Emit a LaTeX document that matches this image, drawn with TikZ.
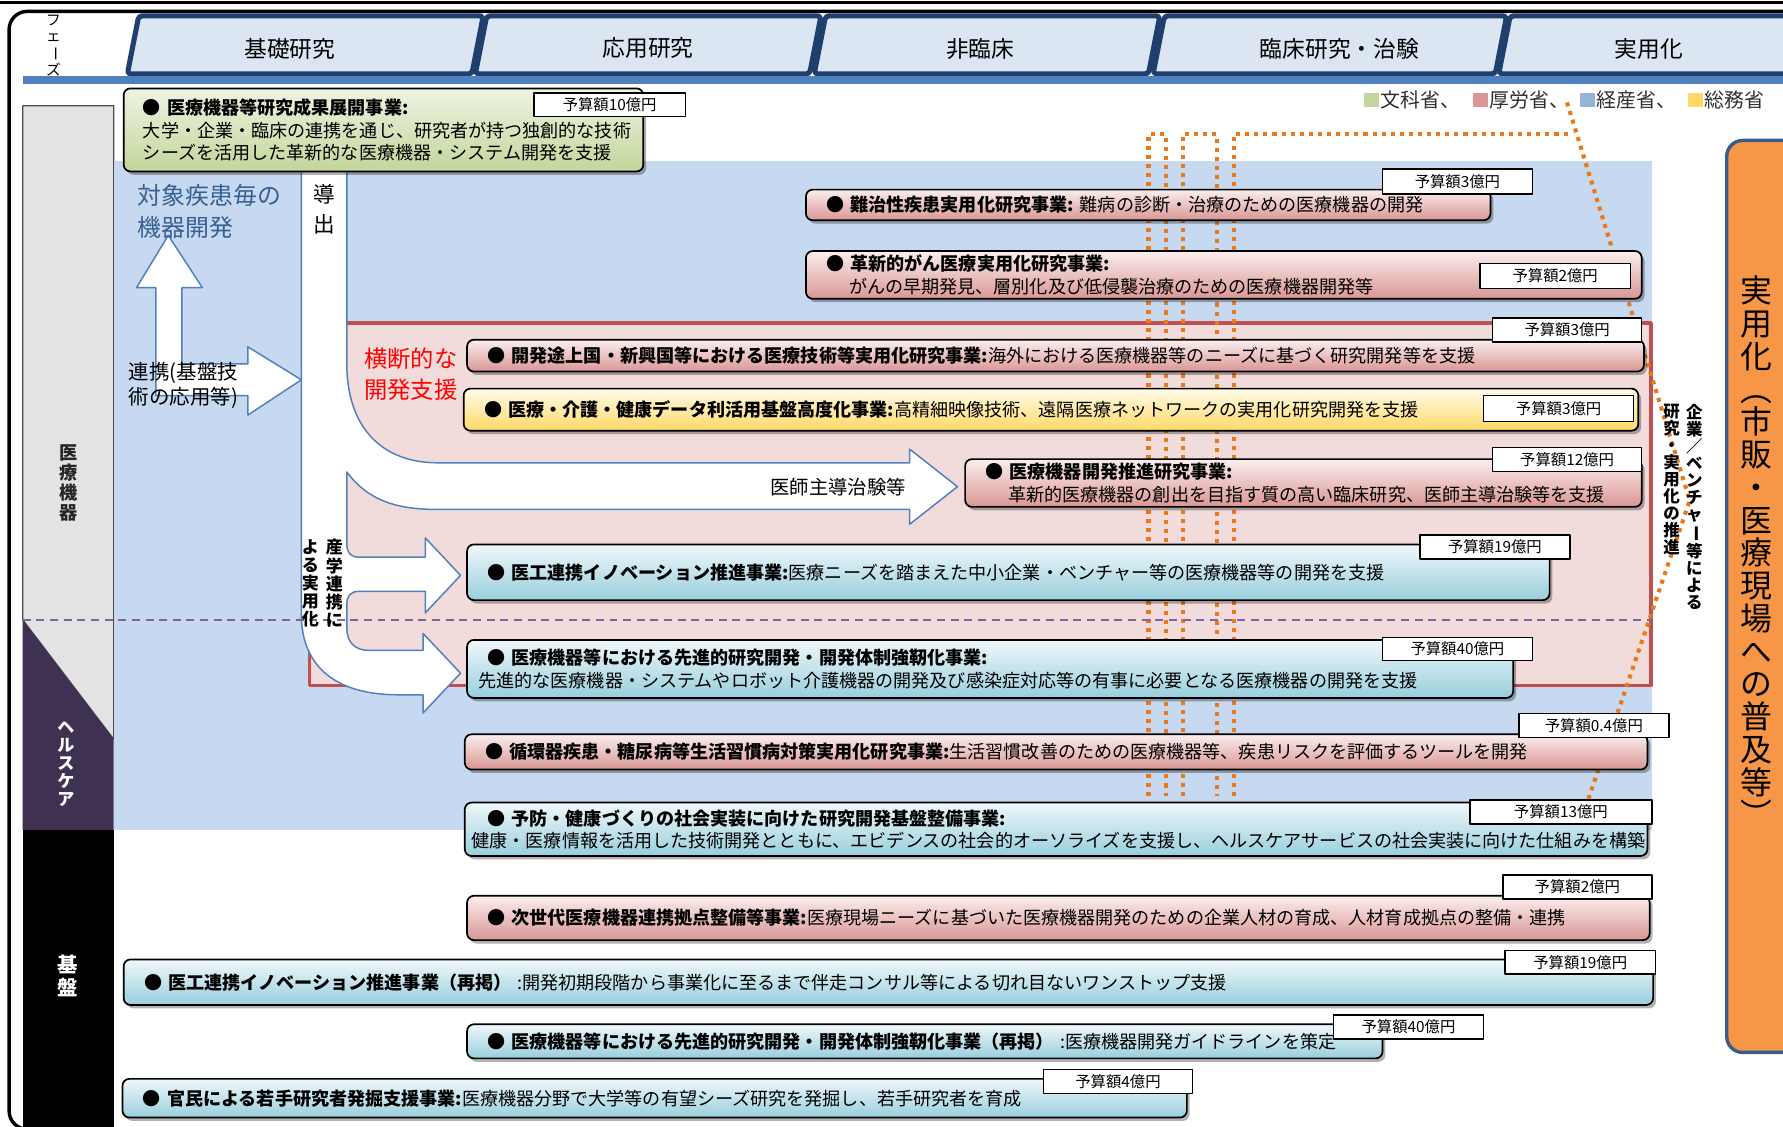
\documentclass[tikz,border=0pt]{standalone}
\usepackage{fontspec}
\setmainfont{Noto Sans CJK JP}
\usetikzlibrary{shadows}

\definecolor{tabfill}{HTML}{DCE6F2}
\definecolor{tabline}{HTML}{1F3F6E}
\definecolor{barblue}{HTML}{4F81BD}
\definecolor{zoneblue}{HTML}{C6D9F1}
\definecolor{zonepink}{HTML}{F2DCDB}
\definecolor{zonered}{HTML}{C0504D}
\definecolor{colgray}{HTML}{E3E3E3}
\definecolor{colpurple}{HTML}{3F3151}
\definecolor{arrowline}{HTML}{4F81BD}
\definecolor{dotorange}{HTML}{E97A1B}
\definecolor{dashpurple}{HTML}{8064A2}
\definecolor{pinkT}{HTML}{FBEEEE}
\definecolor{pinkB}{HTML}{D99694}
\definecolor{blueT}{HTML}{F0F8FB}
\definecolor{blueB}{HTML}{98CEDC}
\definecolor{yellowT}{HTML}{FFFBEA}
\definecolor{yellowB}{HTML}{FFD966}
\definecolor{greenT}{HTML}{EEF3E2}
\definecolor{greenB}{HTML}{C3D69B}
\definecolor{legGreen}{HTML}{C3D69B}
\definecolor{legPink}{HTML}{D99694}
\definecolor{legBlue}{HTML}{95B3D7}
\definecolor{legYellow}{HTML}{FFD966}
\definecolor{orangebox}{HTML}{F79646}
\definecolor{orangeline}{HTML}{385D8A}
\definecolor{titleblue}{HTML}{376092}
\definecolor{legtext}{HTML}{303030}

\newcommand\boxfont{\fontsize{15.9}{19.5}\selectfont}
\newcommand\budgetfont{\fontsize{13.5}{14.5}\selectfont}
\newcommand\vbar{\rotatebox[origin=c]{-90}{ー}}

\tikzset{
  cbox/.style={draw=black, line width=1.5pt, rounded corners=6pt, anchor=north west,
    inner ysep=0pt, align=left, font=\boxfont,
    drop shadow={shadow xshift=2.5pt, shadow yshift=-3pt, opacity=0.3, fill=black}},
  pinkbox/.style={cbox, top color=pinkT, bottom color=pinkB},
  bluebox/.style={cbox, top color=blueT, bottom color=blueB},
  yellowbox/.style={cbox, top color=yellowT, bottom color=yellowB},
  greenbox/.style={cbox, top color=greenT, bottom color=greenB},
  budget/.style={draw=black, line width=1.3pt, fill=white, anchor=north west,
    inner sep=0pt, font=\budgetfont},
  tabshape/.style={fill=tabfill, draw=tabline, line width=4.5pt, rounded corners=3pt},
  tabtext/.style={inner sep=0pt, font=\fontsize{20}{22}\selectfont},
  coltext/.style={inner sep=0pt, align=center},
  legsq/.style={inner sep=0pt, minimum size=13pt},
  legtxt/.style={inner sep=0pt, anchor=west, text=legtext, font=\fontsize{17.5}{19}\selectfont},
  odot/.style={draw=dotorange, line width=3.6pt, dash pattern=on 3.6pt off 4.4pt},
  whitearrow/.style={draw=arrowline, fill=white, line width=1.3pt},
}

\begin{document}
\begin{tikzpicture}[x=1pt, y=-1pt, line join=round]
\clip (0,0) rectangle (1568,991);
\fill[white] (0,0) rectangle (1568,991);

% outer frame
\draw[line width=3pt] (0,2) -- (1568,2);
\draw[line width=3pt, rounded corners=16pt] (1620,10) -- (8,10) -- (8,993) -- (1620,993);

% phase tabs
\node[coltext, font=\fontsize{13}{14}\selectfont] (phase) at (47,40) {フ\\ェ\\\vbar\\ズ};
\draw[tabshape] (112,65) -- (122,14) -- (425,14) -- (415,65) -- cycle;
\draw[tabshape] (418,65) -- (428,14) -- (722,14) -- (712,65) -- cycle;
\draw[tabshape] (716,65) -- (726,14) -- (1020,14) -- (1010,65) -- cycle;
\draw[tabshape] (1014,65) -- (1024,14) -- (1325,14) -- (1315,65) -- cycle;
\draw[tabshape] (1318,65) -- (1328,14) -- (1600,14) -- (1590,65) -- cycle;
\node[tabtext] (ph1) at (255,43) {基礎研究};
\node[tabtext] (ph2) at (570,42) {応用研究};
\node[tabtext] (ph3) at (862,43) {非臨床};
\node[tabtext] (ph4) at (1178,43) {臨床研究・治験};
\node[tabtext] (ph5) at (1450,43) {実用化};
\fill[barblue] (20,67) rectangle (1568,74);

% ministry legend
\node[legsq, fill=legGreen] (lq1) at (1206,88) {};
\node[legtxt] (lt1) at (1214,88) {文科省、};
\node[legsq, fill=legPink] (lq2) at (1302,88) {};
\node[legtxt] (lt2) at (1310,88) {厚労省、};
\node[legsq, fill=legBlue] (lq3) at (1396,88) {};
\node[legtxt] (lt3) at (1404,88) {経産省、};
\node[legsq, fill=legYellow] (lq4) at (1491,88) {};
\node[legtxt] (lt4) at (1499,88) {総務省};

% left category column
\filldraw[fill=colgray, draw=black!70, line width=1pt] (20,93) -- (100,93) -- (100,650) -- (20,545) -- cycle;
\fill[colpurple] (20,545) -- (100,650) -- (100,730) -- (20,730) -- cycle;
\fill[black] (20,730) rectangle (100,991);
\node[coltext, text=black!85, font=\bfseries\fontsize{16}{17.5}\selectfont] (c1) at (60,425) {医\\療\\機\\器};
\node[coltext, text=white, font=\bfseries\fontsize{15}{16}\selectfont] (c2) at (58,672) {ヘ\\ル\\ス\\ケ\\ア};
\node[coltext, text=white, font=\bfseries\fontsize{18}{20}\selectfont] (c3) at (60,858) {基\\盤};

% zones
\fill[zoneblue] (100,142) rectangle (1453,730);
\filldraw[fill=zonepink, draw=zonered, line width=3pt] (272,284) rectangle (1452,603);

% orange dotted guide lines
\draw[odot] (1010,700) -- (1010,118) -- (1025,118) -- (1025,700);
\draw[odot] (1040,700) -- (1040,118) -- (1070,118) -- (1070,700);
\draw[odot] (1085,700) -- (1085,118) -- (1383,118);
\draw[odot] (1378,90) -- (1486,440) -- (1396,705);

% white flow arrows
\path[whitearrow] (265,148) -- (265,540)
  .. controls (265,590) and (300,611) .. (350,611)
  -- (372,611) -- (372,627) -- (405,592) -- (372,557) -- (372,572)
  -- (325,572) .. controls (312,572) and (305,565) .. (305,552)
  -- (305,532) .. controls (305,524) and (308,520) .. (316,520)
  -- (374,520) -- (374,539) -- (405,506) -- (374,473) -- (374,490)
  -- (316,490) .. controls (308,490) and (305,486) .. (305,478)
  -- (305,415) .. controls (322,438) and (345,448) .. (384,448)
  -- (800,448) -- (800,461) -- (842,428) -- (800,395) -- (800,407)
  -- (385,407) .. controls (335,407) and (305,375) .. (305,320)
  -- (305,148);
\path[whitearrow] (137,348) -- (137,253) -- (120,253) -- (148,207) -- (178,253)
  -- (160,253) -- (160,320) -- (218,320) -- (218,305) -- (265,334) -- (218,365)
  -- (218,348) -- cycle;

\draw[draw=dashpurple, line width=1.8pt, dash pattern=on 7pt off 5pt] (20,545) -- (1453,545);

% labels on the arrows and zones
\node[inner sep=0pt, anchor=west, align=left, text=titleblue, font=\fontsize{21}{28}\selectfont] (tgt) at (121,186) {対象疾患毎の\\機器開発};
\node[inner sep=0pt, anchor=west, align=left, font=\fontsize{18}{22}\selectfont] (rnk) at (113,339) {連携(基盤技\\術の応用等)};
\node[inner sep=0pt, anchor=west, align=left, text=red, font=\fontsize{20.5}{28}\selectfont] (odn) at (320,329) {横断的な\\開発支援};
\node[inner sep=0pt, font=\fontsize{17}{19}\selectfont] (ishi) at (737,428) {医師主導治験等};
\node[coltext, font=\fontsize{19}{27}\selectfont] (dou) at (285,184) {導\\出};
\node[coltext, anchor=north, font=\bfseries\fontsize{15}{16}\selectfont] (sg1) at (294,474) {産\\学\\連\\携\\に};
\node[coltext, anchor=north, font=\bfseries\fontsize{15}{16}\selectfont] (sg2) at (273,474) {よ\\る\\実\\用\\化};

% programme boxes
\node[greenbox, inner xsep=12pt, text width=433pt, minimum height=73pt] (g0) at (108,77)
  {\hspace*{5pt}●~\textbf{医療機器等研究成果展開事業:}\\\hspace*{5pt}大学・企業・臨床の連携を通じ、研究者が持つ独創的な技術\\\hspace*{5pt}シーズを活用した革新的な医療機器・システム開発を支援};
\node[budget, minimum width=133pt, minimum height=21pt] (u0) at (469,81) {予算額10億円};

\node[pinkbox, inner xsep=12pt, text width=578pt, minimum height=27pt] (b1) at (708,166)
  {\hspace*{6pt}●~\textbf{難治性疾患実用化研究事業:}~難病の診断・治療のための医療機器の開発};
\node[budget, minimum width=132pt, minimum height=22pt] (u1) at (1215,148) {予算額3億円};

\node[pinkbox, inner xsep=12pt, text width=711pt, minimum height=42pt] (b2) at (708,220)
  {\hspace*{6pt}●~\textbf{革新的がん医療実用化研究事業:}\\\hspace*{26pt}がんの早期発見、層別化及び低侵襲治療のための医療機器開発等};
\node[budget, minimum width=132pt, minimum height=22pt] (u2) at (1301,231) {予算額2億円};

\node[pinkbox, inner xsep=10pt, text width=1015pt, minimum height=28pt] (b3) at (410,298)
  {\hspace*{8pt}●~\textbf{開発途上国・新興国等における医療技術等実用化研究事業:}海外における医療機器等のニーズに基づく研究開発等を支援};
\node[budget, minimum width=131pt, minimum height=21pt] (u3) at (1312,279) {予算額3億円};

\node[yellowbox, inner xsep=10pt, text width=1013pt, minimum height=37pt] (b4) at (407,341)
  {\hspace*{8pt}●~\textbf{医療・介護・健康データ利活用基盤高度化事業:}高精細映像技術、遠隔医療ネットワークの実用化研究開発を支援};
\node[budget, minimum width=132pt, minimum height=23pt] (u4) at (1304,347) {予算額3億円};

\node[pinkbox, inner xsep=10pt, text width=575pt, minimum height=42pt] (b5) at (848,403)
  {\hspace*{8pt}●~\textbf{医療機器開発推進研究事業:}\\\hspace*{28pt}革新的医療機器の創出を目指す質の高い臨床研究、医師主導治験等を支援};
\node[budget, minimum width=131pt, minimum height=21pt] (u5) at (1312,393) {予算額12億円};

\node[bluebox, inner xsep=10pt, text width=932pt, minimum height=49pt] (b6) at (410,478)
  {\hspace*{8pt}●~\textbf{医工連携イノベーション推進事業:}医療ニーズを踏まえた中小企業・ベンチャー等の医療機器等の開発を支援};
\node[budget, minimum width=132pt, minimum height=21pt] (u6) at (1248,470) {予算額19億円};

\node[bluebox, inner xsep=10pt, text width=900pt, minimum height=51pt] (b7) at (410,562)
  {\hspace*{8pt}●~\textbf{医療機器等における先進的研究開発・開発体制強靭化事業:}\\先進的な医療機器・システムやロボット介護機器の開発及び感染症対応等の有事に必要となる医療機器の開発を支援};
\node[budget, minimum width=132pt, minimum height=20pt] (u7) at (1215,560) {予算額40億円};

\node[pinkbox, inner xsep=10pt, text width=1020pt, minimum height=31pt] (b8) at (408,645)
  {\hspace*{8pt}●~\textbf{循環器疾患・糖尿病等生活習慣病対策実用化研究事業:}生活習慣改善のための医療機器等、疾患リスクを評価するツールを開発};
\node[budget, minimum width=132pt, minimum height=21pt] (u8) at (1335,627) {予算額0.4億円};

\node[bluebox, inner xsep=6pt, text width=1028pt, minimum height=47pt] (b9) at (408,705)
  {\hspace*{14pt}●~\textbf{予防・健康づくりの社会実装に向けた研究開発基盤整備事業:}\\健康・医療情報を活用した技術開発とともに、エビデンスの社会的オーソライズを支援し、ヘルスケアサービスの社会実装に向けた仕組みを構築};
\node[budget, minimum width=160pt, minimum height=21pt] (u9) at (1292,703) {予算額13億円};

\node[pinkbox, inner xsep=10pt, text width=1020pt, minimum height=39pt] (b10) at (410,787)
  {\hspace*{8pt}●~\textbf{次世代医療機器連携拠点整備等事業:}医療現場ニーズに基づいた医療機器開発のための企業人材の育成、人材育成拠点の整備・連携};
\node[budget, minimum width=131pt, minimum height=21pt] (u10) at (1321,769) {予算額2億円};

\node[bluebox, inner xsep=10pt, text width=1325pt, minimum height=40pt] (b11) at (108,843)
  {\hspace*{8pt}●~\textbf{医工連携イノベーション推進事業（再掲）}~:開発初期段階から事業化に至るまで伴走コンサル等による切れ目ないワンストップ支援};
\node[budget, minimum width=132pt, minimum height=21pt] (u11) at (1323,835) {予算額19億円};

\node[bluebox, inner xsep=10pt, text width=785pt, minimum height=30pt] (b12) at (410,900)
  {\hspace*{8pt}●~\textbf{医療機器等における先進的研究開発・開発体制強靭化事業（再掲）}~:医療機器開発ガイドラインを策定};
\node[budget, minimum width=132pt, minimum height=21pt] (u12) at (1172,892) {予算額40億円};

\node[bluebox, inner xsep=10pt, text width=916pt, minimum height=34pt] (b13) at (107,948)
  {\hspace*{8pt}●~\textbf{官民による若手研究者発掘支援事業:}医療機器分野で大学等の有望シーズ研究を発掘し、若手研究者を育成};
\node[budget, minimum width=131pt, minimum height=21pt] (u13) at (917,940) {予算額4億円};

% practical use column
\node[draw=orangeline, fill=orangebox, line width=3pt, rounded corners=14pt, anchor=north west,
  minimum width=100pt, minimum height=802pt, inner sep=0pt] (ob) at (1517,122) {};
\node[coltext, font=\fontsize{28}{28.8}\selectfont] (obt) at (1545,485)
  {実\\用\\化\\︵\\市\\販\\・\\医\\療\\現\\場\\へ\\の\\普\\及\\等\\︶};
\node[coltext, anchor=north, font=\bfseries\fontsize{14.5}{15}\selectfont] (ent) at (1490,355)
  {企\\業\\／\\ベ\\ン\\チ\\ャ\\\vbar\\等\\に\\よ\\る};
\node[coltext, anchor=north, font=\bfseries\fontsize{14.5}{15}\selectfont] (ent2) at (1470,355)
  {研\\究\\・\\実\\用\\化\\の\\推\\進};
\end{tikzpicture}
\end{document}
